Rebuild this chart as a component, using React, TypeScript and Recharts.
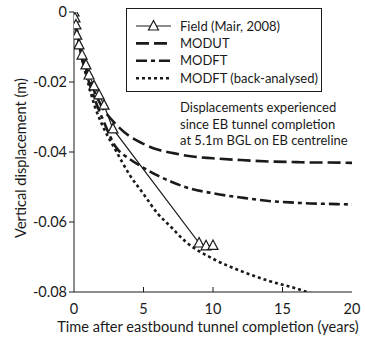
import React from "react"
import { LineChart, Line, XAxis, YAxis, Label } from "recharts"

// field measurements (Mair, 2008)
const fieldTime = [0, 0.07, 0.14, 0.2, 0.36, 0.58, 0.86, 1.08, 1.44, 1.8, 2.16, 2.8, 9.0, 9.5, 10.0]
const fieldDisp = [0, -0.0017, -0.0037, -0.0066, -0.0094, -0.0123, -0.0151, -0.018, -0.0211, -0.0237, -0.0266, -0.0334, -0.066, -0.0668, -0.0667]

// model predictions
const modelTime = [0, 0.25, 0.5, 1, 1.5, 2, 3, 4, 5, 6, 7, 8, 10, 12, 14, 16, 17, 18, 20]
const modut = [0, -0.006, -0.011, -0.018, -0.023, -0.027, -0.032, -0.0355, -0.0377, -0.0393, -0.0402, -0.041, -0.0418, -0.0423, -0.0427, -0.0429, -0.043, -0.043, -0.0431]
const modft = [0, -0.0065, -0.012, -0.019, -0.025, -0.03, -0.0385, -0.042, -0.0445, -0.0467, -0.0485, -0.05, -0.0518, -0.053, -0.054, -0.0545, -0.0547, -0.0548, -0.055]
const modftBack = [0, -0.0065, -0.012, -0.02, -0.027, -0.032, -0.0395, -0.0465, -0.052, -0.0575, -0.0615, -0.0655, -0.0705, -0.074, -0.0768, -0.079, -0.0803, -0.0815, -0.084]

const xTicks = [0, 5, 10, 15, 20]
const yTicks = [0, -0.02, -0.04, -0.06, -0.08]

const legendItems = ["Field (Mair, 2008)", "MODUT", "MODFT", "MODFT (back-analysed)"]
const noteLines = ["Displacements experienced", "since EB tunnel completion", "at 5.1m BGL on EB centreline"]

const font = "Lato, 'Open Sans', sans-serif"
const ink = "#1a1a1a"

const fieldData = fieldTime.map((t, i) => ({ t, v: fieldDisp[i] }))
const modutData = modelTime.map((t, i) => ({ t, v: modut[i] }))
const modftData = modelTime.map((t, i) => ({ t, v: modft[i] }))
const backData = modelTime.map((t, i) => ({ t, v: modftBack[i] }))

const Triangle = (props: any) => {
  const { cx, cy } = props
  if (cx == null || cy == null) return null
  return (
    <path
      d={`M${cx},${cy - 5.5} L${cx + 5},${cy + 4} L${cx - 5},${cy + 4} Z`}
      fill="#fff"
      stroke={ink}
      strokeWidth={1.2}
    />
  )
}

const XTick = (props: any) => {
  const { x, payload } = props
  return (
    <g>
      {payload.value > 0 && payload.value < 20 && (
        <line x1={x} x2={x} y1={292} y2={287} stroke={ink} strokeWidth={1} />
      )}
      <text x={x} y={314} textAnchor="middle" fontSize={14.5} fill={ink} fontFamily={font}>
        {payload.value}
      </text>
    </g>
  )
}

const styles = [
  { dash: undefined, width: 1.2 },
  { dash: "13 5", width: 2.6 },
  { dash: "11 4 4 4", width: 2.6 },
  { dash: "3 3", width: 2.6 },
]

export default function App() {
  return (
    <div style={{ position: "absolute", left: 0, top: 0, width: 365, height: 339, background: "#fff" }}>
      <LineChart width={365} height={339} margin={{ top: 12, right: 13, left: 0, bottom: 0 }}>
        <XAxis
          dataKey="t"
          type="number"
          domain={[0, 20]}
          ticks={xTicks}
          tickLine={false}
          tick={<XTick />}
          height={47}
          stroke={ink}
          allowDataOverflow
        >
          <Label
            content={() => (
              <text x={208} y={332} textAnchor="middle" fontSize={14.6} fill={ink} fontFamily={font}>
                Time after eastbound tunnel completion (years)
              </text>
            )}
          />
        </XAxis>
        <XAxis xAxisId="top" type="number" domain={[0, 20]} orientation="top" height={0} tick={false} tickLine={false} stroke={ink} />
        <YAxis
          type="number"
          domain={[-0.08, 0]}
          ticks={yTicks}
          width={74}
          tickSize={5}
          tickFormatter={(v: number) => (v === 0 ? "0" : v.toFixed(2))}
          tick={{ fontSize: 14.5, fill: ink, fontFamily: font }}
          stroke={ink}
          allowDataOverflow
        >
          <Label
            content={() => (
              <text transform="translate(26,158) rotate(-90)" textAnchor="middle" fontSize={14.6} fill={ink} fontFamily={font}>
                Vertical displacement (m)
              </text>
            )}
          />
        </YAxis>
        <YAxis
          yAxisId="right"
          orientation="right"
          type="number"
          domain={[-0.08, 0]}
          ticks={yTicks}
          width={0}
          mirror
          tickSize={5}
          tickFormatter={() => ""}
          stroke={ink}
        />
        <Line data={modutData} dataKey="v" type="monotone" stroke={ink} strokeWidth={styles[1].width} strokeDasharray={styles[1].dash} dot={false} isAnimationActive={false} />
        <Line data={modftData} dataKey="v" type="monotone" stroke={ink} strokeWidth={styles[2].width} strokeDasharray={styles[2].dash} dot={false} isAnimationActive={false} />
        <Line data={backData} dataKey="v" type="monotone" stroke={ink} strokeWidth={styles[3].width} strokeDasharray={styles[3].dash} dot={false} isAnimationActive={false} />
        <Line data={fieldData} dataKey="v" type="linear" stroke={ink} strokeWidth={styles[0].width} dot={<Triangle />} isAnimationActive={false} />
      </LineChart>
      <div
        style={{
          position: "absolute",
          left: 126,
          top: 8,
          width: 196,
          height: 84,
          background: "#fff",
          border: `1px solid ${ink}`,
          boxSizing: "border-box",
        }}
      >
        <svg width={196} height={84} style={{ display: "block" }}>
          {legendItems.map((name, i) => {
            const y = 17 + i * 17.4
            return (
              <g key={name}>
                <line x1={9} x2={44} y1={y} y2={y} stroke={ink} strokeWidth={styles[i].width} strokeDasharray={styles[i].dash} />
                {i === 0 && <Triangle cx={26.5} cy={y} />}
                <text x={53} y={y + 4.5} fontSize={13} fill={ink} fontFamily={font}>
                  {name}
                </text>
              </g>
            )
          })}
        </svg>
      </div>
      <svg width={200} height={60} style={{ position: "absolute", left: 175, top: 95 }}>
        {noteLines.map((line, i) => (
          <text key={line} x={5} y={17 + i * 16.5} fontSize={13} fill={ink} fontFamily={font}>
            {line}
          </text>
        ))}
      </svg>
    </div>
  )
}
